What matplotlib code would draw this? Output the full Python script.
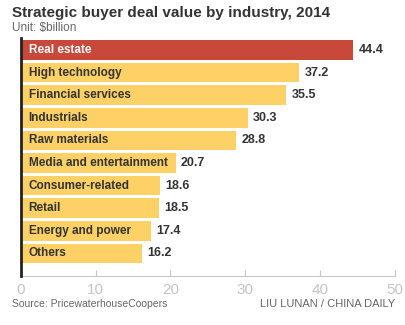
import matplotlib
matplotlib.use("Agg")
import matplotlib.pyplot as plt
from matplotlib import font_manager

industries = ["Real estate", "High technology", "Financial services", "Industrials",
              "Raw materials", "Media and entertainment", "Consumer-related",
              "Retail", "Energy and power", "Others"]
values = [44.4, 37.2, 35.5, 30.3, 28.8, 20.7, 18.6, 18.5, 17.4, 16.2]
ticks = [0, 10, 20, 30, 40, 50]

names = {f.name for f in font_manager.fontManager.ttflist}
narrow = "Liberation Sans Narrow" if "Liberation Sans Narrow" in names else "Liberation Sans"

W, H = 406, 325
fig = plt.figure(figsize=(W / 100, H / 100), dpi=100)
ax = fig.add_axes([20.7 / W, 1 - 276 / H, (395 - 20.7) / W, (276 - 38) / H])

colors = ["#c8483a"] + ["#fdd166"] * (len(values) - 1)
ypos = range(len(values))
ax.barh(ypos, values, height=0.87, color=colors, zorder=2)

for i, (name, v) in enumerate(zip(industries, values)):
    ax.text(1.05, i, name, va="center", ha="left", fontsize=8.5, fontweight="bold",
            family=narrow, color="white" if i == 0 else "#333333", zorder=3)
    ax.text(v + 0.7, i, f"{v}", va="center", ha="left", fontsize=9, fontweight="bold",
            family=narrow, color="#333333")

ax.set_xlim(0, 50)
ax.set_ylim(10.0, -0.53)
ax.set_xticks(ticks)
ax.set_xticklabels([str(t) for t in ticks], family="Liberation Sans",
                   fontsize=11, color="#c4c4c4")
ax.set_yticks([])
ax.tick_params(axis="x", direction="in", length=4, width=0.8, color="#c8c8c8", pad=5)
for s in ["top", "right"]:
    ax.spines[s].set_visible(False)
ax.spines["bottom"].set_color("#c8c8c8")
ax.spines["bottom"].set_linewidth(0.8)
ax.spines["left"].set_color("#222222")
ax.spines["left"].set_linewidth(2)
ax.spines["left"].set_zorder(4)

fig.text(12 / W, 1 - 13 / H, "Strategic buyer deal value by industry, 2014",
         fontsize=11, fontweight="bold", family="Liberation Sans", color="#333333",
         va="center", ha="left")
fig.text(12 / W, 1 - 28 / H, "Unit: $billion", fontsize=8.5, family="Liberation Sans",
         color="#666666", va="center", ha="left")
fig.text(12 / W, 1 - 304 / H, "Source: PricewaterhouseCoopers", fontsize=7.5,
         family="Liberation Sans", color="#666666", va="center", ha="left")
fig.text(395 / W, 1 - 304 / H, "LIU LUNAN / CHINA DAILY", fontsize=8,
         family="Liberation Sans", color="#666666", va="center", ha="right")

fig.savefig("out.png", dpi=100)
